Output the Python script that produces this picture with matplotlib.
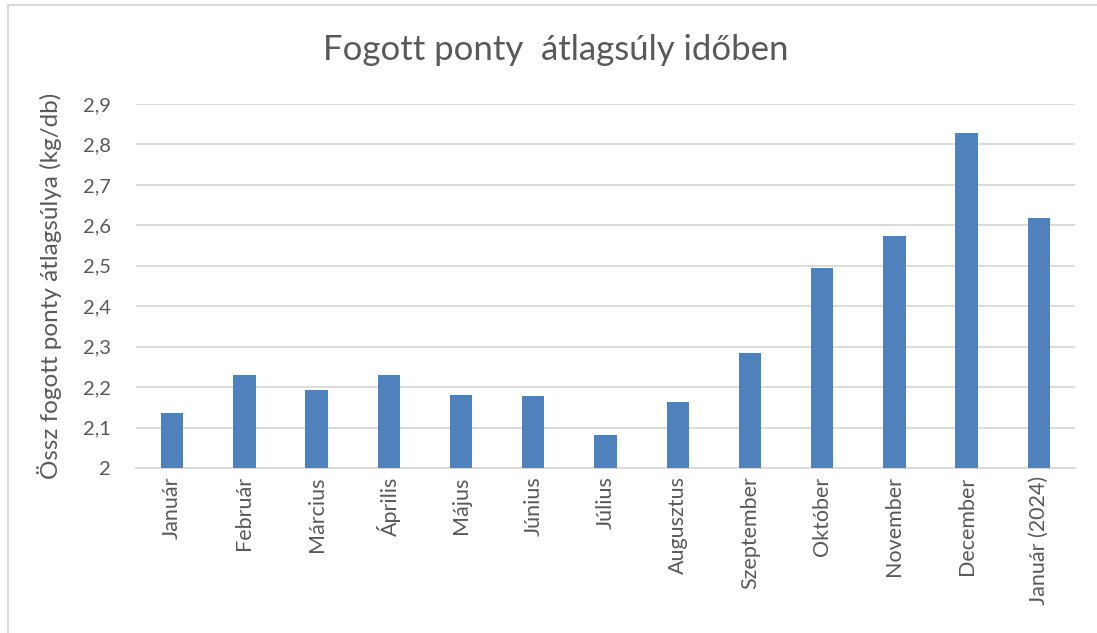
import numpy as np
import matplotlib.pyplot as plt
from matplotlib.patches import Rectangle

plt.rcParams['font.family'] = ['Lato', 'DejaVu Sans']

# havi adatok
honapok = ["Január", "Február", "Március", "Április", "Május", "Június", "Július",
           "Augusztus", "Szeptember", "Október", "November", "December", "Január (2024)"]
atlagsuly = [2.136, 2.231, 2.192, 2.229, 2.181, 2.177, 2.081,
             2.163, 2.284, 2.494, 2.574, 2.828, 2.619]
y_ticks = [2.0, 2.1, 2.2, 2.3, 2.4, 2.5, 2.6, 2.7, 2.8, 2.9]
y_tick_labels = ["2", "2,1", "2,2", "2,3", "2,4", "2,5", "2,6", "2,7", "2,8", "2,9"]

text_color = "#595959"
grid_color = "#D9D9D9"

fig = plt.figure(figsize=(10.97, 6.33), dpi=100)
ax = fig.add_axes([136/1097, 1 - 468/633, (1075 - 136)/1097, (468 - 104)/633])

x = np.arange(len(honapok))
ax.bar(x, atlagsuly, width=0.31, color="#4F81BD", zorder=3)

ax.set_xlim(-0.5, len(honapok) - 0.5)
ax.set_ylim(2.0, 2.9)
ax.set_yticks(y_ticks)
ax.set_yticklabels(y_tick_labels, fontsize=14.5, color=text_color)
ax.set_xticks(x)
ax.set_xticklabels(honapok, rotation=90, fontsize=15.5, color=text_color)
ax.tick_params(axis='both', length=0)
ax.tick_params(axis='y', pad=18)
ax.tick_params(axis='x', pad=6)

ax.grid(axis='y', color=grid_color, linewidth=1.3, zorder=0)
for s in ["top", "right", "left"]:
    ax.spines[s].set_visible(False)
ax.spines["bottom"].set_color(grid_color)
ax.spines["bottom"].set_linewidth(1.3)

ax.set_ylabel("Össz fogott ponty átlagsúlya (kg/db)", fontsize=17.5, color=text_color)
ax.yaxis.set_label_coords(-(136 - 62)/939, 0.5)

fig.text(556/1097, 1 - 50/633, "Fogott ponty  átlagsúly időben", ha="center", va="center",
         fontsize=25, color=text_color)

# keret a diagram körül
fig.patches.append(Rectangle((8/1097, -0.01), 1.1, 1 - 5/633 + 0.01, transform=fig.transFigure,
                             fill=False, edgecolor=grid_color, linewidth=1.5))

fig.savefig("out.png", dpi=100)
